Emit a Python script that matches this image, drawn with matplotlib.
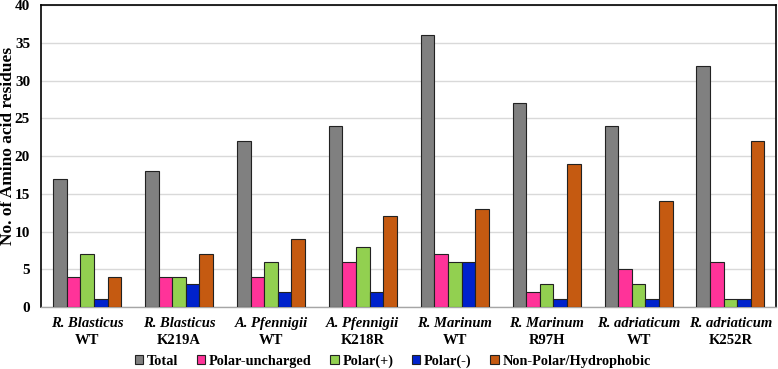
import numpy as np
import matplotlib
matplotlib.use('Agg')
import matplotlib.pyplot as plt
from matplotlib.transforms import offset_copy

plt.rcParams['font.family'] = ['Liberation Serif', 'DejaVu Serif']

species = ['R. Blasticus', 'R. Blasticus', 'A. Pfennigii', 'A. Pfennigii',
           'R. Marinum', 'R. Marinum', 'R. adriaticum', 'R. adriaticum']
variants = ['WT', 'K219A', 'WT', 'K218R', 'WT', 'R97H', 'WT', 'K252R']

total = [17, 18, 22, 24, 36, 27, 24, 32]
polar_unch = [4, 4, 4, 6, 7, 2, 5, 6]
polar_pos = [7, 4, 6, 8, 6, 3, 3, 1]
polar_neg = [1, 3, 2, 2, 6, 1, 1, 1]
nonpolar = [4, 7, 9, 12, 13, 19, 14, 22]

series = [total, polar_unch, polar_pos, polar_neg, nonpolar]
names = ['Total', 'Polar-uncharged', 'Polar(+)', 'Polar(-)', 'Non-Polar/Hydrophobic']
colors = ['#808080', '#FF3399', '#92D050', '#0022CC', '#C55A11']

fig = plt.figure(figsize=(7.78, 3.69), dpi=100)
ax = fig.add_axes([0.053, 0.168, 0.945, 0.818])

x = np.arange(len(species))
w = 0.148
for i, (vals, nm, col) in enumerate(zip(series, names, colors)):
    ax.bar(x + (i - 2) * w, vals, w, color=col, edgecolor='#222222',
           linewidth=0.8, label=nm, zorder=3)

ax.set_xlim(-0.5, len(species) - 0.5)
ax.set_ylim(0, 40)
ax.set_yticks(range(0, 41, 5))
ax.yaxis.grid(True, color='#d9d9d9', linewidth=1, zorder=0)
ax.tick_params(axis='y', length=0, labelsize=11, pad=8)
ax.tick_params(axis='x', length=0)
for lab in ax.get_yticklabels():
    lab.set_fontweight('bold')

ax.set_xticks(x)
ax.set_xticklabels([''] * len(x))
base = ax.get_xaxis_transform()
tr_sp = offset_copy(base, fig=fig, x=0, y=-16, units='dots')
tr_vr = offset_copy(base, fig=fig, x=0, y=-33, units='dots')
for xi, sp, vr in zip(x, species, variants):
    ax.text(xi, 0, sp, ha='center', va='center', fontsize=10.5,
            fontweight='bold', fontstyle='italic', transform=tr_sp)
    ax.text(xi, 0, vr, ha='center', va='center', fontsize=10.5,
            fontweight='bold', transform=tr_vr)

for s in ['left', 'top', 'right']:
    ax.spines[s].set_color('black')
    ax.spines[s].set_linewidth(1.2)
ax.spines['bottom'].set_color('#a6a6a6')
ax.spines['bottom'].set_linewidth(1)

fig.text(0.010, 0.605, 'No. of Amino acid residues',
         rotation=90, ha='center', va='center', fontsize=12.5, fontweight='bold')

ax.legend(loc='center', bbox_to_anchor=(0.478, -0.179), ncol=5, frameon=False,
          prop={'weight': 'bold', 'size': 10.3}, handlelength=0.6, handleheight=0.6,
          handletextpad=0.25, columnspacing=1.3, borderaxespad=0)

fig.savefig('out.png', dpi=100)
